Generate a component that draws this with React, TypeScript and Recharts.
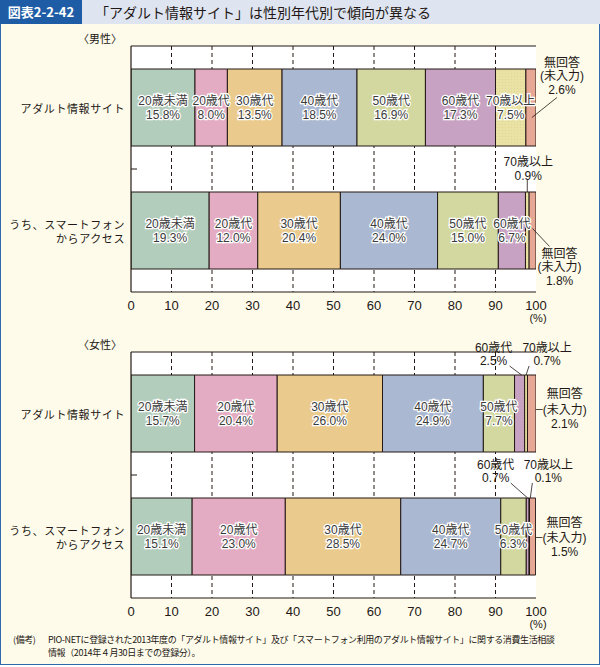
import { BarChart, Bar, XAxis, YAxis, CartesianGrid, LabelList, usePlotArea } from 'recharts'

// categories and series
const ageGroups = ['20歳未満', '20歳代', '30歳代', '40歳代', '50歳代', '60歳代', '70歳以上', '無回答']
const seriesKeys = ['u20', 's20', 's30', 's40', 's50', 's60', 's70', 'na']
const categories = ['アダルト情報サイト', 'うち、スマートフォン\nからアクセス']
const xTicks = [0, 10, 20, 30, 40, 50, 60, 70, 80, 90, 100]

// values (%)
const maleSite = [15.8, 8.0, 13.5, 18.5, 16.9, 17.3, 7.5, 2.6]
const maleSmartphone = [19.3, 12.0, 20.4, 24.0, 15.0, 6.7, 0.9, 1.8]
const femaleSite = [15.7, 20.4, 26.0, 24.9, 7.7, 2.5, 0.7, 2.1]
const femaleSmartphone = [15.1, 23.0, 28.5, 24.7, 6.3, 0.7, 0.1, 1.5]

const colors = ['#b2cdbb', '#e3acc2', '#eacb8d', '#aab8d1', '#d2d8a0', '#c8a2c3', 'url(#dots70)', '#e6a795']
const ink = '#231815'
const font = '"Noto Sans CJK JP", "Noto Sans", sans-serif'
const numFont = '"Liberation Sans", "Noto Sans CJK JP", sans-serif'

const toRow = (name: string, values: number[]) => {
  const row: Record<string, string | number> = { name }
  seriesKeys.forEach((k, i) => (row[k] = values[i]))
  return row
}

const maleData = [toRow(categories[0], maleSite), toRow(categories[1], maleSmartphone)]
const femaleData = [toRow(categories[0], femaleSite), toRow(categories[1], femaleSmartphone)]

// callouts for thin segments: label offset from segment centre, leader line
type Callout = { from: 'top' | 'mid'; lx: number; ly: number[]; line: number[] }

const maleCallouts: Record<string, Callout> = {
  '0-7': { from: 'mid', lx: 31, ly: [-45, -32, -18], line: [1, 10, 26, -10] },
  '1-6': { from: 'top', lx: 1, ly: [-30, -16], line: [0, -12, 0, 0] },
  '1-7': { from: 'mid', lx: 27, ly: [23, 36, 50], line: [0, -2, 17, 16] },
}

const femaleCallouts: Record<string, Callout> = {
  '0-5': { from: 'top', lx: -26, ly: [-27, -14], line: [-10, -9, 2, 0] },
  '0-6': { from: 'top', lx: 21, ly: [-27, -14], line: [3, -9, 0, 0] },
  '0-7': { from: 'mid', lx: 33, ly: [-20, -4, 10], line: [4, -4, 11, -4] },
  '1-5': { from: 'top', lx: -32, ly: [-33, -20], line: [-17, -15, 0, 0] },
  '1-6': { from: 'top', lx: 19, ly: [-33, -20], line: [3, -15, 1, 0] },
  '1-7': { from: 'mid', lx: 32, ly: [-14, 1, 15], line: [3, 1, 10, 1] },
}

const labelLines = (s: number, v: number) =>
  s === 7 ? ['無回答', '(未入力)', `${v.toFixed(1)}%`] : [ageGroups[s], `${v.toFixed(1)}%`]

const makeLabel = (s: number, callouts: Record<string, Callout>) => (props: any) => {
  const x = Number(props.x)
  const y = Number(props.y)
  const w = Number(props.width)
  const h = Number(props.height)
  const v = Number(props.value)
  const cx = x + w / 2
  const lines = labelLines(s, v)
  const c = callouts[`${props.index}-${s}`]
  if (c) {
    const ay = c.from === 'top' ? y : y + h / 2
    return (
      <g>
        <line
          x1={cx + c.line[0]}
          y1={ay + c.line[1]}
          x2={cx + c.line[2]}
          y2={ay + c.line[3]}
          stroke={ink}
          strokeWidth={0.8}
        />
        {lines.map((t, i) => (
          <text key={i} x={cx + c.lx} y={ay + c.ly[i]} textAnchor='middle' dominantBaseline='central'
            fontSize={12} fill={ink} fontFamily={numFont}>
            {t}
          </text>
        ))}
      </g>
    )
  }
  if (s === 7) return null
  const my = y + h / 2
  return (
    <g>
      {lines.map((t, i) => (
        <text key={i} x={cx} y={my - 7 + i * 14} textAnchor='middle' dominantBaseline='central'
          fontSize={12} fill='#3a3a3a' stroke='#fff' strokeWidth={2.5} paintOrder='stroke'
          fontFamily={numFont}>
          {t}
        </text>
      ))}
    </g>
  )
}

const CategoryTick = (props: any) => {
  const parts = String(props.payload.value).split('\n')
  const y0 = props.y - ((parts.length - 1) / 2) * 14
  return (
    <text x={props.x + 2} y={y0} textAnchor='end' dominantBaseline='central' fontSize={11}
      fill={ink} fontFamily={font} letterSpacing={0.6}>
      {parts.map((t, i) => (
        <tspan key={i} x={props.x + 2} y={y0 + i * 14}>
          {t}
        </tspan>
      ))}
    </text>
  )
}

function PlotFrame({ title }: { title: string }) {
  const area = usePlotArea()
  if (!area) return null
  const { x, y, width, height } = area
  return (
    <g>
      <line x1={x} y1={y} x2={x + width} y2={y} stroke={ink} strokeWidth={1.2} />
      <line x1={x} y1={y + height / 2} x2={x + 6} y2={y + height / 2} stroke={ink} />
      <text x={x - 31} y={y - 8} textAnchor='middle' dominantBaseline='central' fontSize={11}
        fill={ink} fontFamily={font}>
        {title}
      </text>
      <text x={x + width + 2} y={y + height + 26} textAnchor='middle' dominantBaseline='central'
        fontSize={11} fill={ink} fontFamily={numFont}>
        (%)
      </text>
    </g>
  )
}

// inner gridlines only (no line on 0 or 100)
const innerGrid = ({ offset }: any) =>
  xTicks.slice(1, -1).map((t) => offset.left + (offset.width * t) / 100)

function Panel({ data, title, callouts, top }: any) {
  return (
    <div style={{ position: 'absolute', left: 0, top }}>
      <BarChart width={600} height={300} data={data} layout='vertical'
        margin={{ top: 16, right: 64, bottom: 8, left: 0 }} barSize={77}
        style={{ fontFamily: font }}>
        <defs>
          <pattern id='dots70' width='3' height='3' patternUnits='userSpaceOnUse'>
            <rect width='3' height='3' fill='#e9e2a4' />
            <circle cx='1.5' cy='1.5' r='0.45' fill='#d8cc8a' />
          </pattern>
        </defs>
        <CartesianGrid horizontal={false} strokeDasharray='4 3' stroke={ink} fill='#fff'
          fillOpacity={1} verticalCoordinatesGenerator={innerGrid} />
        <XAxis type='number' domain={[0, 100]} ticks={xTicks} allowDataOverflow
          axisLine={{ stroke: ink, strokeWidth: 1.2 }} tickLine={false} tickMargin={3}
          tick={{ fontSize: 13, fill: ink, fontFamily: numFont }} height={30} interval={0} />
        <YAxis type='category' dataKey='name' width={131}
          axisLine={{ stroke: ink, strokeWidth: 1.2 }} tickLine={false} tick={<CategoryTick />} />
        {seriesKeys.map((k, i) => (
          <Bar key={k} dataKey={k} stackId='a' fill={colors[i]} stroke={ink} strokeWidth={1}
            isAnimationActive={false}>
            <LabelList dataKey={k} content={makeLabel(i, callouts)} />
          </Bar>
        ))}
        <PlotFrame title={title} />
      </BarChart>
    </div>
  )
}

export default function App() {
  return (
    <div style={{ position: 'absolute', left: 0, top: 0, width: 600, height: 667, fontFamily: font,
      background: '#fff', overflow: 'hidden' }}>
      <div style={{ position: 'absolute', left: 0, top: 0, width: 600, height: 24, background: '#dfe5f0' }} />
      <div style={{ position: 'absolute', left: 0, top: 0, width: 82, height: 24, background: '#1e5da6',
        color: '#fff', fontSize: 13, fontWeight: 700, lineHeight: '24px', textAlign: 'center' }}>
        図表2-2-42
      </div>
      <div style={{ position: 'absolute', left: 95, top: 0, height: 24, lineHeight: '24px', fontSize: 14,
        color: ink }}>
        「アダルト情報サイト」は性別年代別で傾向が異なる
      </div>
      <div style={{ position: 'absolute', left: 0, top: 24, width: 600, height: 641, boxSizing: 'border-box',
        border: '1px solid #2f6aae', borderTop: 'none', background: '#fefbea' }} />
      <Panel data={maleData} title='〈男性〉' callouts={maleCallouts} top={30} />
      <Panel data={femaleData} title='〈女性〉' callouts={femaleCallouts} top={336} />
      <div style={{ position: 'absolute', left: 13, top: 633, fontSize: 9, letterSpacing: -0.4,
        color: ink, lineHeight: '13px' }}>
        <div><span style={{ display: 'inline-block', width: 35 }}>(備考)</span>PIO-NETに登録された2013年度の「アダルト情報サイト」及び「スマートフォン利用のアダルト情報サイト」に関する消費生活相談</div>
        <div style={{ paddingLeft: 35 }}>情報（2014年４月30日までの登録分）。</div>
      </div>
    </div>
  )
}
